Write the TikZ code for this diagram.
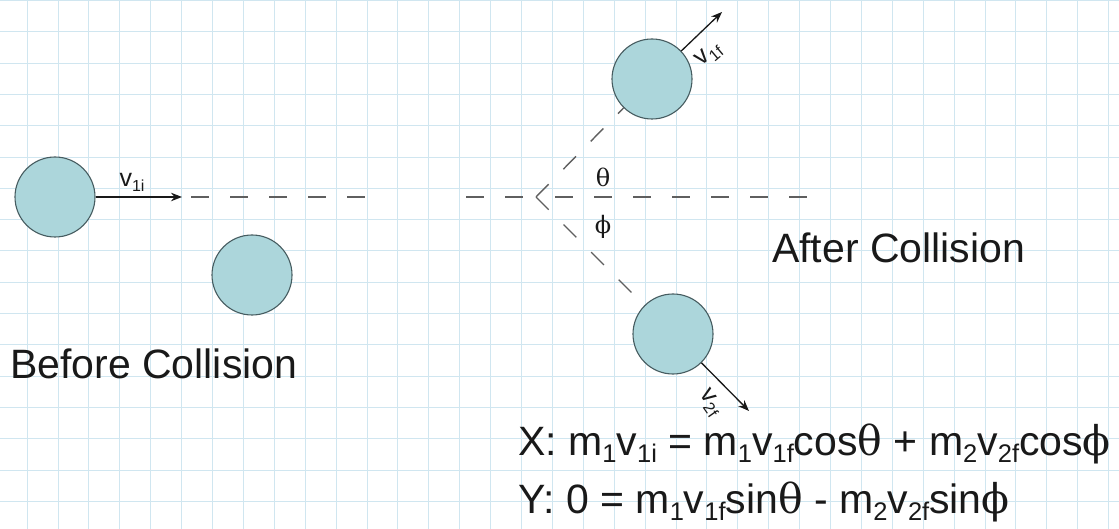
\documentclass[tikz,border=0pt]{standalone}
\usepackage{fontspec}
\setmainfont{Liberation Sans}
\newfontfamily\grk{DejaVu Serif}
\usetikzlibrary{arrows.meta}
\definecolor{ballfill}{RGB}{172,214,219}
\definecolor{ballline}{RGB}{70,92,96}
\definecolor{gridc}{RGB}{208,230,240}
\definecolor{dashc}{RGB}{95,95,95}
\definecolor{inkc}{RGB}{25,25,25}
\newcommand{\eqs}[1]{\raisebox{-7pt}{\fontsize{25.5}{26}\selectfont #1}}
\newcommand{\lbs}[1]{\raisebox{-5pt}{\fontsize{16}{16}\selectfont #1}}
\begin{document}
\begin{tikzpicture}[x=1pt,y=-1pt,
  ball/.style={circle,draw=ballline,fill=ballfill,line width=1.1pt,minimum size=80pt,inner sep=0pt},
  track/.style={draw=dashc,line width=1.4pt,dash pattern=on 18pt off 21pt},
  vel/.style={draw=inkc,line width=1.3pt,-{Stealth[length=11pt,width=8.5pt]}},
  vlab/.style={font=\fontsize{25}{25}\selectfont,inner sep=0pt,text=inkc},
  glab/.style={font=\grk\fontsize{24}{24}\selectfont,inner sep=0pt,text=inkc},
  big/.style={font=\fontsize{41}{49}\selectfont,inner sep=0pt,anchor=base west,text=inkc}]
\fill[white] (0,0) rectangle (1119,529);
\useasboundingbox (0,0) rectangle (1119,529);
% grid
\foreach \k in {0,...,35} \draw[gridc,line width=0.8pt] ({27+30.9*\k},0) -- ({27+30.9*\k},529);
\foreach \k in {0,...,16} \draw[gridc,line width=0.8pt] (0,{0.5+31.3*\k}) -- (1119,{0.5+31.3*\k});
% balls
\node[ball] (c1) at (55,197) {};
\node[ball] (c2) at (252,275) {};
\node[ball] (c3) at (652,79) {};
\node[ball] (c4) at (673,334) {};
% coordinates
\coordinate (tip1) at (182,197);
\coordinate (tip3) at (722,12);
\coordinate (tip4) at (749,411);
\coordinate (h1) at (191,197);
\coordinate (h2) at (368,197);
\coordinate (h3) at (466,197);
\coordinate (vx) at (536,197);
\coordinate (h4) at (555,197);
\coordinate (h5) at (810,197);
% dashed tracks
\draw[track] (h1) -- (h2);
\draw[track] (h3) -- (vx);
\draw[track] (h4) -- (h5);
\draw[track] (vx) -- (c3);
\draw[track] (vx) -- (c4);
% velocity arrows
\draw[vel] (c1) -- (tip1);
\draw[vel] (c3) -- (tip3);
\draw[vel] (c4) -- (tip4);
% labels
\node[vlab] (l1) at (132,182) {v\lbs{1i}};
\node[vlab,rotate=40] (l3) at (709,55) {v\lbs{1f}};
\node[vlab,rotate=-55] (l4) at (710,403) {v\lbs{2f}};
\node[glab] (th) at (603,177) {θ};
\node[glab] (ph) at (603,227) {ϕ};
\node[big] (after) at (772,263) {After Collision};
\node[big] (before) at (10,378) {Before Collision};
\node[big] (eqx) at (518,455) {X: m\eqs{1}v\eqs{1i} = m\eqs{1}v\eqs{1f}cos{\grk θ} + m\eqs{2}v\eqs{2f}cos{\grk ϕ}};
\node[big] (eqy) at (518,513) {Y: 0 = m\eqs{1}v\eqs{1f}sin{\grk θ} - m\eqs{2}v\eqs{2f}sin{\grk ϕ}};
\end{tikzpicture}
\end{document}
